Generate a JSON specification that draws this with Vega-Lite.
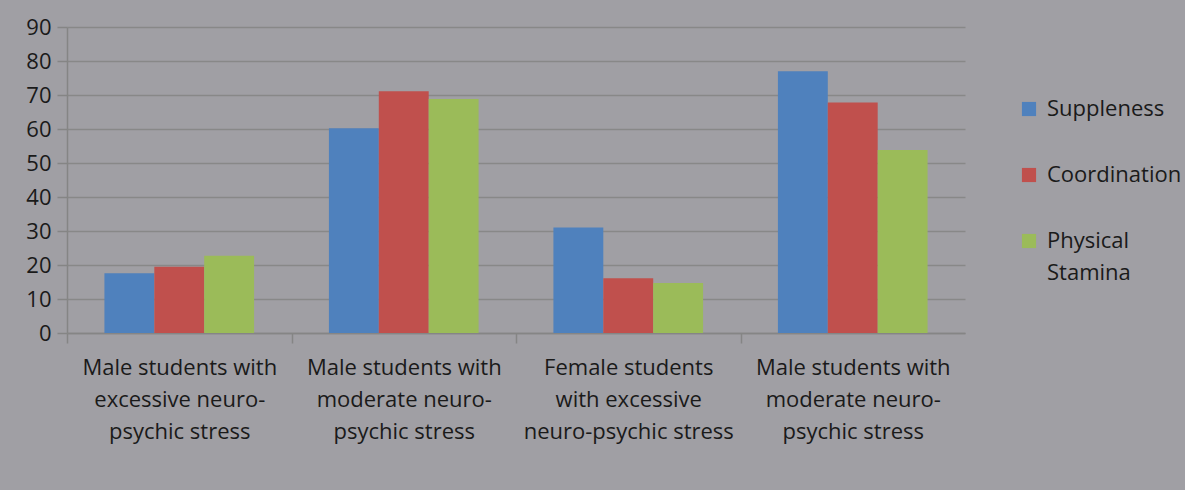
{
  "$schema": "https://vega.github.io/schema/vega-lite/v6.json",
  "autosize": {"type": "none"},
  "width": 898,
  "height": 306,
  "padding": {"left": 67, "top": 27, "right": 220, "bottom": 157},
  "background": "#a09fa4",
  "config": {
    "view": {"stroke": null},
    "font": "Open Sans",
    "style": {"guide-label": {"lineHeight": 32}}
  },
  "data": {
    "values": [
      {"group": "Male students with|excessive neuro-|psychic stress", "measure": "Suppleness", "value": 17.6},
      {"group": "Male students with|excessive neuro-|psychic stress", "measure": "Coordination", "value": 19.5},
      {"group": "Male students with|excessive neuro-|psychic stress", "measure": "Physical Stamina", "value": 22.7},
      {"group": "Male students with|moderate neuro-|psychic stress", "measure": "Suppleness", "value": 60.2},
      {"group": "Male students with|moderate neuro-|psychic stress", "measure": "Coordination", "value": 71.1},
      {"group": "Male students with|moderate neuro-|psychic stress", "measure": "Physical Stamina", "value": 68.8},
      {"group": "Female students|with excessive|neuro-psychic stress", "measure": "Suppleness", "value": 31.0},
      {"group": "Female students|with excessive|neuro-psychic stress", "measure": "Coordination", "value": 16.1},
      {"group": "Female students|with excessive|neuro-psychic stress", "measure": "Physical Stamina", "value": 14.7},
      {"group": "Male students with|moderate neuro-|psychic stress ", "measure": "Suppleness", "value": 77.0},
      {"group": "Male students with|moderate neuro-|psychic stress ", "measure": "Coordination", "value": 67.8},
      {"group": "Male students with|moderate neuro-|psychic stress ", "measure": "Physical Stamina", "value": 53.8}
    ]
  },
  "mark": {"type": "bar"},
  "encoding": {
    "x": {
      "field": "group",
      "type": "nominal",
      "sort": null,
      "scale": {"paddingInner": 0.3333, "paddingOuter": 0.1667},
      "axis": {
        "title": null,
        "labelAngle": 0,
        "labelExpr": "split(datum.label, '|')",
        "labelFontSize": 22,
        "labelLineHeight": 32,
        "labelColor": "#1a1a1a",
        "labelPadding": 14,
        "labelLimit": 400,
        "labelOffset": 112,
        "tickSize": 10,
        "tickOffset": -112,
        "tickColor": "#858585",
        "domainColor": "#858585",
        "domainWidth": 1.5,
        "tickWidth": 1.5
      }
    },
    "xOffset": {
      "field": "measure",
      "type": "nominal",
      "sort": ["Suppleness", "Coordination", "Physical Stamina"],
      "scale": {"paddingInner": 0, "paddingOuter": 0}
    },
    "y": {
      "field": "value",
      "type": "quantitative",
      "scale": {"domain": [0, 90], "nice": false},
      "axis": {
        "title": null,
        "values": [0, 10, 20, 30, 40, 50, 60, 70, 80, 90],
        "labelFontSize": 22,
        "labelColor": "#1a1a1a",
        "labelPadding": 6,
        "tickSize": 10,
        "tickColor": "#858585",
        "tickWidth": 1.5,
        "domainColor": "#858585",
        "domainWidth": 1.5,
        "gridColor": "#888888",
        "gridWidth": 1.5
      }
    },
    "color": {
      "field": "measure",
      "type": "nominal",
      "sort": ["Suppleness", "Coordination", "Physical Stamina"],
      "scale": {
        "domain": ["Suppleness", "Coordination", "Physical Stamina"],
        "range": ["#4f81bd", "#c0504d", "#9bbb59"]
      },
      "legend": {
        "title": null,
        "orient": "none",
        "legendX": 951,
        "legendY": 71,
        "symbolType": "square",
        "symbolSize": 200,
        "symbolStrokeWidth": 0,
        "labelFontSize": 22,
        "labelColor": "#1a1a1a",
        "labelExpr": "datum.label == 'Physical Stamina' ? ['Physical', 'Stamina'] : datum.label",
        "rowPadding": 44,
        "labelOffset": 7,
        "labelLimit": 300
      }
    }
  }
}
